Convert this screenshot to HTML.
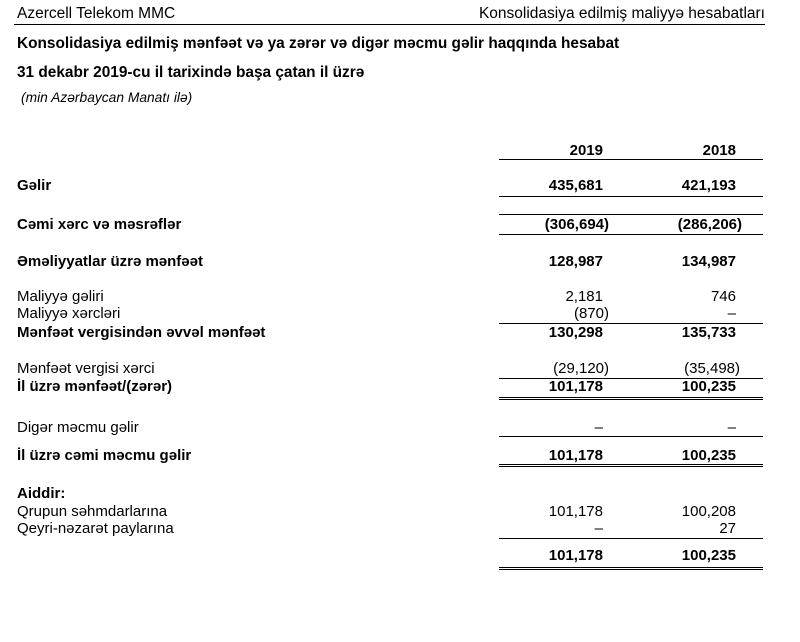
<!DOCTYPE html>
<html><head><meta charset="utf-8"><style>
body{margin:0;width:800px;height:642px;background:#fff;position:relative;overflow:hidden;font-family:"Liberation Sans",Arial,sans-serif;color:#000}
.t{position:absolute;font-size:15px;line-height:16px;white-space:nowrap}
.b{font-weight:bold}
.r1{position:absolute;right:197px;font-size:15px;line-height:16px;white-space:nowrap}
.r2{position:absolute;right:64px;font-size:15px;line-height:16px;white-space:nowrap}
.l{position:absolute;height:1px;background:#000;left:499px;width:264px}
</style></head><body>
<div class="t" style="left:17px;top:6px;font-size:15.5px">Azercell Telekom MMC</div>
<div class="t" style="right:35px;top:6px;font-size:15.5px">Konsolidasiya edilmiş maliyyə hesabatları</div>
<div class="l" style="left:14px;width:751px;top:24px"></div>
<div class="t b" style="left:17px;top:36px;font-size:15.4px">Konsolidasiya edilmiş mənfəət və ya zərər və digər məcmu gəlir haqqında hesabat</div>
<div class="t b" style="left:17px;top:65px;font-size:15.4px">31 dekabr 2019-cu il tarixində başa çatan il üzrə</div>
<div class="t" style="left:21px;top:90px;font-size:13.8px;font-style:italic">(min Azərbaycan Manatı ilə)</div>

<div class="r1 b" style="top:143px">2019</div>
<div class="r2 b" style="top:143px">2018</div>
<div class="l" style="top:159px"></div>

<div class="t b" style="left:17px;top:178px">Gəlir</div>
<div class="r1 b" style="top:178px">435,681</div>
<div class="r2 b" style="top:178px">421,193</div>
<div class="l" style="top:196px"></div>
<div class="l" style="top:214px"></div>

<div class="t b" style="left:17px;top:217px">Cəmi xərc və məsrəflər</div>
<div class="r1 b" style="top:217px;right:191px">(306,694)</div>
<div class="r2 b" style="top:217px;right:58px">(286,206)</div>
<div class="l" style="top:234px"></div>

<div class="t b" style="left:17px;top:254px">Əməliyyatlar üzrə mənfəət</div>
<div class="r1 b" style="top:254px">128,987</div>
<div class="r2 b" style="top:254px">134,987</div>

<div class="t" style="left:17px;top:289px">Maliyyə gəliri</div>
<div class="r1" style="top:289px">2,181</div>
<div class="r2" style="top:289px">746</div>
<div class="t" style="left:17px;top:306px">Maliyyə xərcləri</div>
<div class="r1" style="top:306px;right:191px">(870)</div>
<div class="r2" style="top:306px">–</div>
<div class="l" style="top:323px"></div>
<div class="t b" style="left:17px;top:325px">Mənfəət vergisindən əvvəl mənfəət</div>
<div class="r1 b" style="top:325px">130,298</div>
<div class="r2 b" style="top:325px">135,733</div>

<div class="t" style="left:17px;top:361px">Mənfəət vergisi xərci</div>
<div class="r1" style="top:361px;right:191px">(29,120)</div>
<div class="r2" style="top:361px;right:60px">(35,498)</div>
<div class="l" style="top:378px"></div>
<div class="t b" style="left:17px;top:379px">İl üzrə mənfəət/(zərər)</div>
<div class="r1 b" style="top:379px">101,178</div>
<div class="r2 b" style="top:379px">100,235</div>
<div class="l" style="top:397px"></div>
<div class="l" style="top:399px"></div>

<div class="t" style="left:17px;top:420px">Digər məcmu gəlir</div>
<div class="r1" style="top:420px">–</div>
<div class="r2" style="top:420px">–</div>
<div class="l" style="top:436px"></div>
<div class="t b" style="left:17px;top:448px">İl üzrə cəmi məcmu gəlir</div>
<div class="r1 b" style="top:448px">101,178</div>
<div class="r2 b" style="top:448px">100,235</div>
<div class="l" style="top:464px"></div>
<div class="l" style="top:466px"></div>

<div class="t b" style="left:17px;top:486px">Aiddir:</div>
<div class="t" style="left:17px;top:504px">Qrupun səhmdarlarına</div>
<div class="r1" style="top:504px">101,178</div>
<div class="r2" style="top:504px">100,208</div>
<div class="t" style="left:17px;top:521px">Qeyri-nəzarət paylarına</div>
<div class="r1" style="top:521px">–</div>
<div class="r2" style="top:521px">27</div>
<div class="l" style="top:538px"></div>
<div class="r1 b" style="top:548px">101,178</div>
<div class="r2 b" style="top:548px">100,235</div>
<div class="l" style="top:567px"></div>
<div class="l" style="top:569px"></div>
</body></html>
